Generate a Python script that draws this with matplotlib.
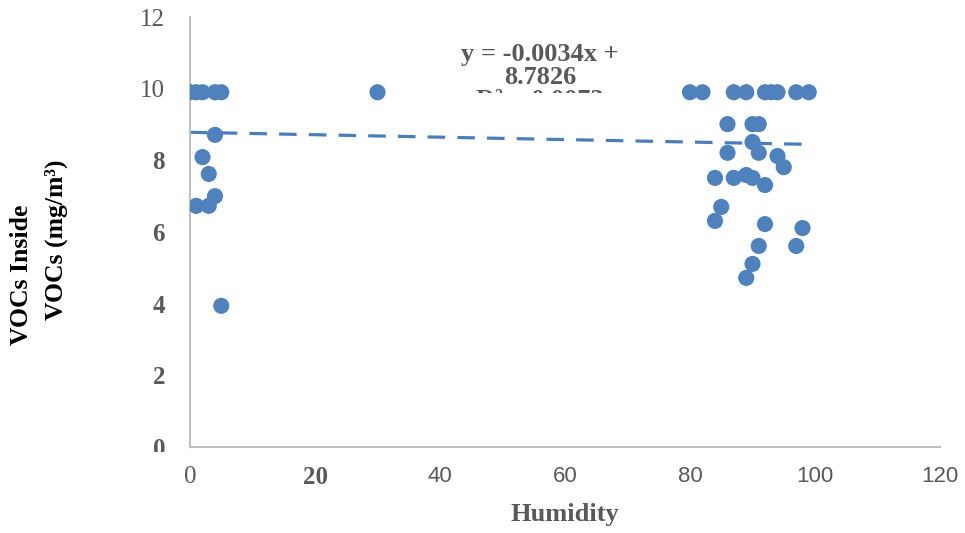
import matplotlib.pyplot as plt
import numpy as np
from matplotlib import font_manager
from matplotlib.transforms import Bbox, TransformedBbox

# humidity vs VOCs inside
humidity = [0, 1, 2, 4, 5,
            4, 2, 3, 4, 1, 3, 5,
            30,
            80, 82, 87, 89, 92, 93, 94, 97, 99,
            86, 90, 91, 90,
            86, 91, 94, 95,
            84, 87, 89, 90, 92,
            85, 84, 92, 98, 91, 97, 90, 89]
vocs = [9.9, 9.9, 9.9, 9.9, 9.9,
        8.71, 8.09, 7.62, 7.0, 6.73, 6.73, 3.94,
        9.9,
        9.9, 9.9, 9.9, 9.9, 9.9, 9.9, 9.9, 9.9, 9.9,
        9.01, 9.01, 9.01, 8.51,
        8.21, 8.21, 8.12, 7.81,
        7.51, 7.51, 7.59, 7.51, 7.31,
        6.70, 6.31, 6.22, 6.11, 5.61, 5.61, 5.11, 4.72]

slope = -0.0034
intercept = 8.7826
r2 = 0.0073

xticks = [0, 20, 40, 60, 80, 100, 120]
yticks = [2, 4, 6, 8, 10, 12]

BLUE = '#4F81BD'
GREY = '#595959'
SERIF = 'Liberation Serif'
installed = {f.name for f in font_manager.fontManager.ttflist}
NARROW = 'Liberation Sans Narrow' if 'Liberation Sans Narrow' in installed else 'Liberation Sans'

fig = plt.figure(figsize=(9.65, 5.33), dpi=100)
ax = fig.add_axes([190/965, 1-447/533, 750/965, 430/533])

ax.scatter(humidity, vocs, s=135, color=BLUE, edgecolors='none', zorder=3)

xs = np.array([min(humidity), max(humidity)])
ax.plot(xs, slope*xs + intercept, color='#4A7EBB', lw=2.3,
        dashes=(5.5, 3.8), zorder=2)

ax.set_xlim(0, 120)
ax.set_ylim(0, 12)
for s in ['top', 'right']:
    ax.spines[s].set_visible(False)
for s in ['left', 'bottom']:
    ax.spines[s].set_color('#BFBFBF')
    ax.spines[s].set_linewidth(1.5)

ax.set_xticks(xticks)
ax.set_xticklabels([str(t) for t in xticks])
ax.set_yticks(yticks)
ax.set_yticklabels([str(t) for t in yticks])
ax.tick_params(axis='both', length=0, colors=GREY)
ax.tick_params(axis='x', pad=14)
ax.tick_params(axis='y', pad=18)

for lbl, t in zip(ax.get_xticklabels(), xticks):
    lbl.set_fontsize(18)
    if t == 0:
        lbl.set_family(SERIF)
    elif t == 20:
        lbl.set_family(SERIF)
        lbl.set_fontweight('bold')
    else:
        lbl.set_family(NARROW)
        lbl.set_fontsize(16)
for lbl, t in zip(ax.get_yticklabels(), yticks):
    lbl.set_fontsize(18)
    lbl.set_family(SERIF)
    if t < 10:
        lbl.set_fontweight('bold')

# the zero on the y axis is cut off in the original
t0 = fig.text(166/965, 1-450/533, '0', ha='right', va='center',
              fontsize=18, fontweight='bold', family=SERIF, color=GREY)
t0.set_clip_box(TransformedBbox(Bbox([[0, 1-452/533], [1, 1]]), fig.transFigure))
t0.set_clip_on(True)

ax.set_xlabel('Humidity', fontsize=19, fontweight='bold', family=SERIF,
              color=GREY, labelpad=10)

fig.text(22/965, 1-275/533, 'VOCs Inside', rotation=90, ha='center',
         va='center', fontsize=18.5, fontweight='bold', family=SERIF,
         color='black')
fig.text(56/965, 1-240/533, 'VOCs (mg/m³)', rotation=90, ha='center',
         va='center', fontsize=18.5, fontweight='bold', family=SERIF,
         color='black')

# trendline label, third line mostly hidden as in the original
teq = fig.text(540/965, 1-43/533, 'y = -0.0034x +\n8.7826\nR² = %.4f' % r2,
               ha='center', va='top', fontsize=19, fontweight='bold',
               family=SERIF, color=GREY, linespacing=1.0)
teq.set_clip_box(TransformedBbox(Bbox([[0, 1-93/533], [1, 1]]), fig.transFigure))
teq.set_clip_on(True)

fig.savefig('out.png', dpi=100)
